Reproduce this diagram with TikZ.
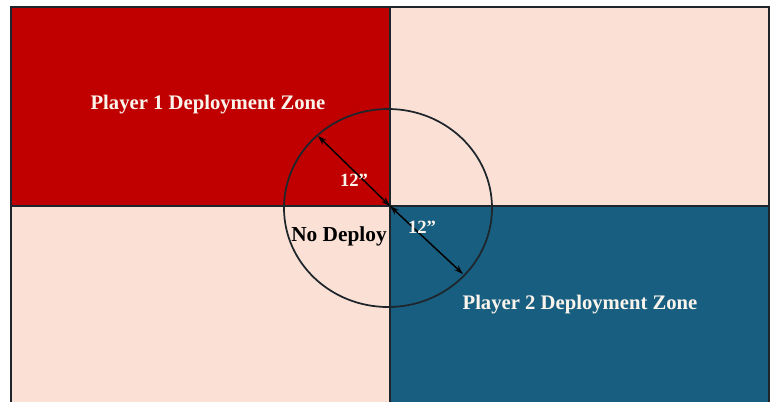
\documentclass[tikz,border=0pt]{standalone}
\usepackage{fontspec}
\setmainfont{Liberation Serif}
\usetikzlibrary{arrows.meta}
\definecolor{zonered}{RGB}{192,0,0}
\definecolor{zonepeach}{RGB}{251,225,213}
\definecolor{zoneblue}{RGB}{24,94,128}
\definecolor{edge}{RGB}{30,38,44}
\definecolor{cream}{RGB}{250,244,236}
\tikzset{
  zonelabel/.style={font=\bfseries\fontsize{15.5}{18}\selectfont, text=cream, inner sep=0pt},
  dimlabel/.style={font=\bfseries\fontsize{14}{16}\selectfont, text=cream, inner sep=0pt},
  nolabel/.style={font=\bfseries\fontsize{16}{18}\selectfont, text=black, inner sep=0pt},
  dimarrow/.style={{Stealth[length=7pt,width=4.5pt]}-{Stealth[length=7pt,width=4.5pt]}, line width=1.1pt, black},
  boardline/.style={draw=edge, line width=1pt}
}
\begin{document}
\begin{tikzpicture}[x=0.75pt,y=-0.75pt]
\useasboundingbox (0,0) rectangle (774,401);
\fill[white] (0,0) rectangle (774,401);
\begin{scope}
\clip (0,0) rectangle (774,401);
% quadrants
\fill[zonered]   (11,7)   rectangle (390,206);
\fill[zonepeach] (390,7)  rectangle (769,206);
\fill[zonepeach] (11,206) rectangle (390,410);
\fill[zoneblue]  (390,206) rectangle (769,410);
% division lines
\draw[boardline] (390,7) -- (390,410);
\draw[boardline] (11,206) -- (769,206);
% outer border
\draw[draw=edge, line width=1.4pt] (11,410) -- (11,7) -- (769,7) -- (769,410);
% no-deploy circle
\draw[edge, line width=1.3pt] (388,208) ellipse [x radius=104, y radius=99];
\end{scope}
\coordinate (centre) at (390,206);
\coordinate (rimA) at (318,136);
\coordinate (rimB) at (463,274);
\draw[dimarrow] (rimA) -- (centre);
\draw[dimarrow] (centre) -- (rimB);
\node[zonelabel] (p1) at (208,105) {Player 1 Deployment Zone};
\node[zonelabel] (p2) at (580,305) {Player 2 Deployment Zone};
\node[dimlabel] (d1) at (354,180) {12”};
\node[dimlabel] (d2) at (422,227) {12”};
\node[nolabel] (nd) at (339,236) {No Deploy};
\end{tikzpicture}
\end{document}
